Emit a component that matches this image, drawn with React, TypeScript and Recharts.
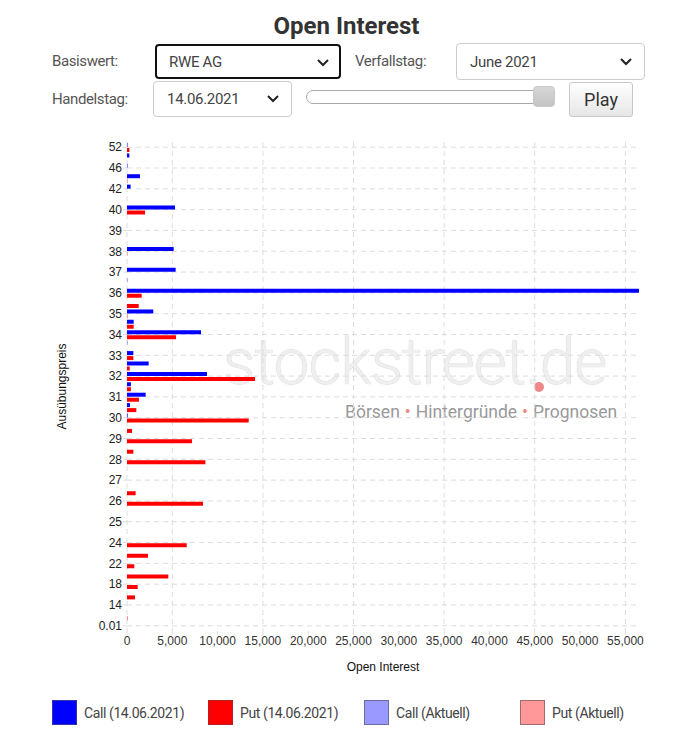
import React from 'react';
import { BarChart, Bar, XAxis, YAxis, CartesianGrid } from 'recharts';

// strike prices, top to bottom (every second one gets a label)
const strikes = [
  '52', '50', '46', '44', '42', '41', '40', '39.5', '39', '38.5', '38', '37.5',
  '37', '36.5', '36', '35.5', '35', '34.5', '34', '33.5', '33', '32.5', '32', '31.5',
  '31', '30.5', '30', '29.5', '29', '28.5', '28', '27.5', '27', '26.5', '26', '25.5',
  '25', '24.5', '24', '23', '22', '20', '18', '16', '14', '12', '0.01',
];

const callOI = [
  50, 260, 50, 1430, 400, 0, 5300, 0, 0, 0, 5150, 0,
  5370, 30, 56500, 0, 2900, 740, 8170, 30, 700, 2390, 8830, 430,
  2060, 330, 70, 0, 0, 0, 0, 0, 0, 0, 0, 0,
  0, 0, 0, 0, 0, 0, 0, 0, 0, 0, 0,
];

const putOI = [
  260, 0, 0, 30, 0, 0, 1990, 0, 0, 0, 30, 0,
  0, 0, 1620, 1290, 40, 740, 5410, 0, 700, 300, 14130, 430,
  1320, 1030, 13430, 550, 7170, 700, 8650, 0, 0, 950, 8390, 0,
  0, 0, 6590, 2320, 810, 4560, 1180, 880, 0, 50, 0,
];

const xTicks = [0, 5000, 10000, 15000, 20000, 25000, 30000, 35000, 40000, 45000, 50000, 55000];

const legendItems = [
  { label: 'Call (14.06.2021)', color: '#0000ff', border: '#3333aa', left: 52 },
  { label: 'Put (14.06.2021)', color: '#ff0000', border: '#b22222', left: 208 },
  { label: 'Call (Aktuell)', color: '#9999ff', border: '#6b6b9e', left: 364 },
  { label: 'Put (Aktuell)', color: '#ff9999', border: '#a06b6b', left: 520 },
];

const rows = strikes.map((s, i) => ({ strike: s, call: callOI[i], put: putOI[i] }));

const uiFont = 'Roboto, "Open Sans", sans-serif';
const chartFont = '"Liberation Sans", Arial, sans-serif';

const Chevron = ({ x, y }: { x: number; y: number }) => (
  <svg style={{ position: 'absolute', left: x, top: y }} width={12} height={8}>
    <polyline points="1,1 6,6 11,1" fill="none" stroke="#222" strokeWidth={2} />
  </svg>
);

const Select = ({ left, top, width, height, text, focused }: any) => (
  <div
    style={{
      position: 'absolute', left, top, width, height, boxSizing: 'border-box',
      border: focused ? '2px solid #111' : '1px solid #ccc', borderRadius: 4,
      background: '#fff', color: '#444', fontSize: 15, letterSpacing: -0.3, display: 'flex', alignItems: 'center',
      paddingLeft: focused ? 12 : 13,
    }}
  >
    <span>{text}</span>
    <Chevron x={width - 26} y={height / 2 - 5} />
  </div>
);

const Label = ({ left, top, text }: any) => (
  <div style={{ position: 'absolute', left, top, color: '#555', fontSize: 15, letterSpacing: -0.4 }}>{text}</div>
);

export default function App() {
  return (
    <div style={{ position: 'absolute', left: 0, top: 0, width: 693, height: 740, background: '#fff', fontFamily: uiFont }}>
      {/* watermark */}
      <div style={{ position: 'absolute', left: 223, top: 331, fontSize: 64, lineHeight: 1, fontWeight: 300, color: '#efefef', letterSpacing: -1, textShadow: '0 0 1px #bbb' }}>
        stockstreet.de
      </div>
      <div style={{ position: 'absolute', left: 345, top: 404, display: 'flex', gap: 5, fontSize: 17.5, lineHeight: 1, color: '#999' }}>
        <span>Börsen</span>
        <span style={{ color: '#e88' }}>•</span>
        <span>Hintergründe</span>
        <span style={{ color: '#e88' }}>•</span>
        <span>Prognosen</span>
      </div>
      <div style={{ position: 'absolute', left: 534, top: 382, width: 10, height: 10, borderRadius: 5, background: '#ee8888' }} />

      <div style={{ position: 'absolute', left: 0, top: 0 }}>
        <BarChart
          width={693}
          height={740}
          layout="vertical"
          data={rows}
          margin={{ top: 142, right: 54, bottom: 69, left: 40 }}
          barSize={4}
          barGap={1}
        >
          <CartesianGrid stroke="#dddddd" strokeDasharray="5 4" syncWithTicks />
          <XAxis
            type="number"
            domain={[0, 'dataMax']}
            ticks={xTicks}
            tickFormatter={(v: number) => v.toLocaleString('en-US')}
            tick={{ fill: '#333', fontSize: 12, fontFamily: chartFont }}
            tickLine={{ stroke: '#dddddd' }}
            tickSize={4}
            tickMargin={1}
            axisLine={false}
            height={40}
            label={{ value: 'Open Interest', position: 'insideBottom', offset: 0, fill: '#111', fontSize: 12, fontFamily: chartFont }}
          />
          <YAxis
            type="category"
            dataKey="strike"
            interval={1}
            width={87}
            tick={{ fill: '#222', fontSize: 12, fontFamily: chartFont }}
            tickLine={{ stroke: '#dddddd' }}
            tickSize={4}
            tickMargin={1}
            axisLine={false}
            label={{ value: 'Ausübungspreis', angle: -90, position: 'insideLeft', offset: 22, fill: '#111', fontSize: 12, fontFamily: chartFont, style: { textAnchor: 'middle' } }}
          />
          <Bar dataKey="call" fill="#0000ff" isAnimationActive={false} />
          <Bar dataKey="put" fill="#ff0000" isAnimationActive={false} />
        </BarChart>
      </div>

      {/* header controls */}
      <div style={{ position: 'absolute', left: 0, width: 693, top: 12, textAlign: 'center', fontSize: 24, fontWeight: 700, color: '#333' }}>
        Open Interest
      </div>
      <Label left={52} top={52} text="Basiswert:" />
      <Select left={155} top={44} width={186} height={35} text="RWE AG" focused />
      <Label left={355} top={52} text="Verfallstag:" />
      <Select left={456} top={43} width={189} height={37} text="June 2021" />
      <Label left={52} top={90} text="Handelstag:" />
      <Select left={153} top={81} width={139} height={36} text="14.06.2021" />
      <div style={{ position: 'absolute', left: 306, top: 90, width: 249, height: 14, boxSizing: 'border-box', border: '1px solid #aaa', borderRadius: 7, background: '#fff' }} />
      <div style={{ position: 'absolute', left: 533, top: 86, width: 22, height: 21, borderRadius: 4, background: 'linear-gradient(#d6d6d6, #c4c4c4)', border: '1px solid #c8c8c8', boxSizing: 'border-box' }} />
      <div
        style={{
          position: 'absolute', left: 569, top: 82, width: 64, height: 35, boxSizing: 'border-box',
          border: '1px solid #c8c8c8', borderRadius: 3, background: 'linear-gradient(#ffffff, #e6e6e6)',
          color: '#333', fontSize: 18, display: 'flex', alignItems: 'center', justifyContent: 'center',
        }}
      >
        Play
      </div>

      {/* legend */}
      {legendItems.map((it) => (
        <div key={it.label} style={{ position: 'absolute', left: it.left, top: 700, display: 'flex', alignItems: 'center' }}>
          <div style={{ width: 25, height: 25, boxSizing: 'border-box', background: it.color, border: `1px solid ${it.border}` }} />
          <span style={{ marginLeft: 7, fontSize: 14, letterSpacing: -0.4, color: '#444' }}>{it.label}</span>
        </div>
      ))}
    </div>
  );
}
